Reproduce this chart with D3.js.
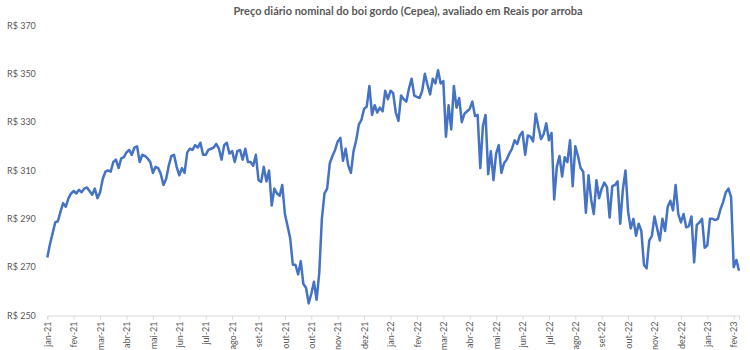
<!DOCTYPE html>
<html><head><meta charset="utf-8">
<script src="https://cdn.jsdelivr.net/npm/d3@7"></script>
<style>body{margin:0;background:#fff}svg{display:block}</style>
</head><body>
<svg id="c" width="750" height="350"></svg>
<script>
const title = "Preço diário nominal do boi gordo (Cepea), avaliado em Reais por arroba";
const tickLabels = ["jan-21","fev-21","mar-21","abr-21","mai-21","jun-21","jul-21","ago-21","set-21","out-21","out-21","nov-21","dez-21","jan-22","fev-22","mar-22","abr-22","mai-22","jun-22","jul-22","ago-22","set-22","out-22","nov-22","dez-22","jan-23","fev-23"];
const yTicks = [250,270,290,310,330,350,370];
const pointsPerTick = 10;
const prices = [
274,279.5,284,288.5,289,293,296.5,295,298.5,300.5,
301.5,300.5,302,301,302.5,303,301.5,300,302.5,298.5,
301,306.5,309.5,310,309.5,313.5,314.5,311,315,315.5,
317.5,318.5,316.5,319.5,320,313.5,316.5,316,315,313.5,
309,311.5,311,308.5,304,306.5,312,316,316.5,311.5,
308,311,309,317.5,319,318.5,320.5,319.5,321.5,316.5,
316.5,318.5,319,319.5,321,319,314.5,320.5,321.5,317,
318,313.5,318,318.5,314.5,319,313.5,313.5,312,316.5,
306,305.3,311.5,305.5,310,295.5,302.5,300.5,299.5,304,
292,287,282,271,271,267,272.5,263,261.5,255,
259,264,256.5,267.5,290,300.5,302.5,313,316,318.5,
322,323.5,314,319,312,309,318,322.5,329,331,
335.5,336.5,345,333,337,334,336,334.5,343,339.5,
343,342,334,330.5,341,339.5,338.5,344,348,341,
340.5,340,343,350,345.5,341.5,348,346,351.5,346,
347,324,337,327,345,336,340,330,333.5,334.5,
335.5,338.5,332.5,333,311,328.5,333,308.5,318,306,
317,320.5,309,313,314.5,317,319,322.5,321,324.5,
326,316.5,324.5,324,322,333.5,328,323,325,329.5,
322.5,325.5,298,311.5,316,307.5,315.5,313.5,322.5,303.5,
320,316,311,309.5,292.5,308,298,292,306,298.5,
302.5,305,303,290.5,303.5,304,305.5,288,302,310,
293,286,290,283,288,285,271,269.5,281,283,
291,286,281,290,285,295,297.5,293.5,304,292,
288.5,292,286.5,287,291,272,287.5,288.5,290,278,
279,290,290,289.5,290,294,297,301,302.5,299,
270,273,268.5
];

const svg = d3.select("#c");
const font = "Lato, 'Open Sans', sans-serif";
const gray = "#595959";

const x = d3.scaleLinear().domain([0, prices.length - 1]).range([47.3, 739]);
const y = d3.scaleLinear().domain([250, 370]).range([315.5, 25.5]);

svg.append("text").attr("x", 408).attr("y", 15).attr("text-anchor", "middle")
  .attr("font-family", font).attr("font-weight", "bold").attr("font-size", 11)
  .attr("fill", gray).text(title);

// y labels
svg.append("g").selectAll("text").data(yTicks).join("text")
  .attr("x", 7).attr("y", d => y(d)).attr("dy", "0.35em")
  .attr("font-family", font).attr("font-size", 9).attr("fill", gray)
  .text(d => "R$ " + d);

// x axis
const tickIdx = tickLabels.map((_, i) => i * pointsPerTick);
const xAxis = d3.axisBottom(x).tickValues(tickIdx).tickSize(4)
  .tickFormat((d, i) => tickLabels[i]);
const gx = svg.append("g").attr("transform", `translate(0,${y(250)})`).call(xAxis);
gx.select(".domain").attr("stroke", "#d9d9d9").attr("stroke-width", 1);
gx.selectAll(".tick line").attr("stroke", "#d9d9d9");
gx.selectAll(".tick text")
  .attr("font-family", font).attr("font-size", 9).attr("fill", gray)
  .attr("transform", "rotate(-90)").attr("text-anchor", "end")
  .attr("x", -6).attr("y", 0).attr("dy", "0.35em");

// line
svg.append("path").datum(prices)
  .attr("fill", "none").attr("stroke", "#4472c4").attr("stroke-width", 2.5)
  .attr("stroke-linejoin", "round")
  .attr("d", d3.line().x((d, i) => x(i)).y(d => y(d)));
</script>
</body></html>
